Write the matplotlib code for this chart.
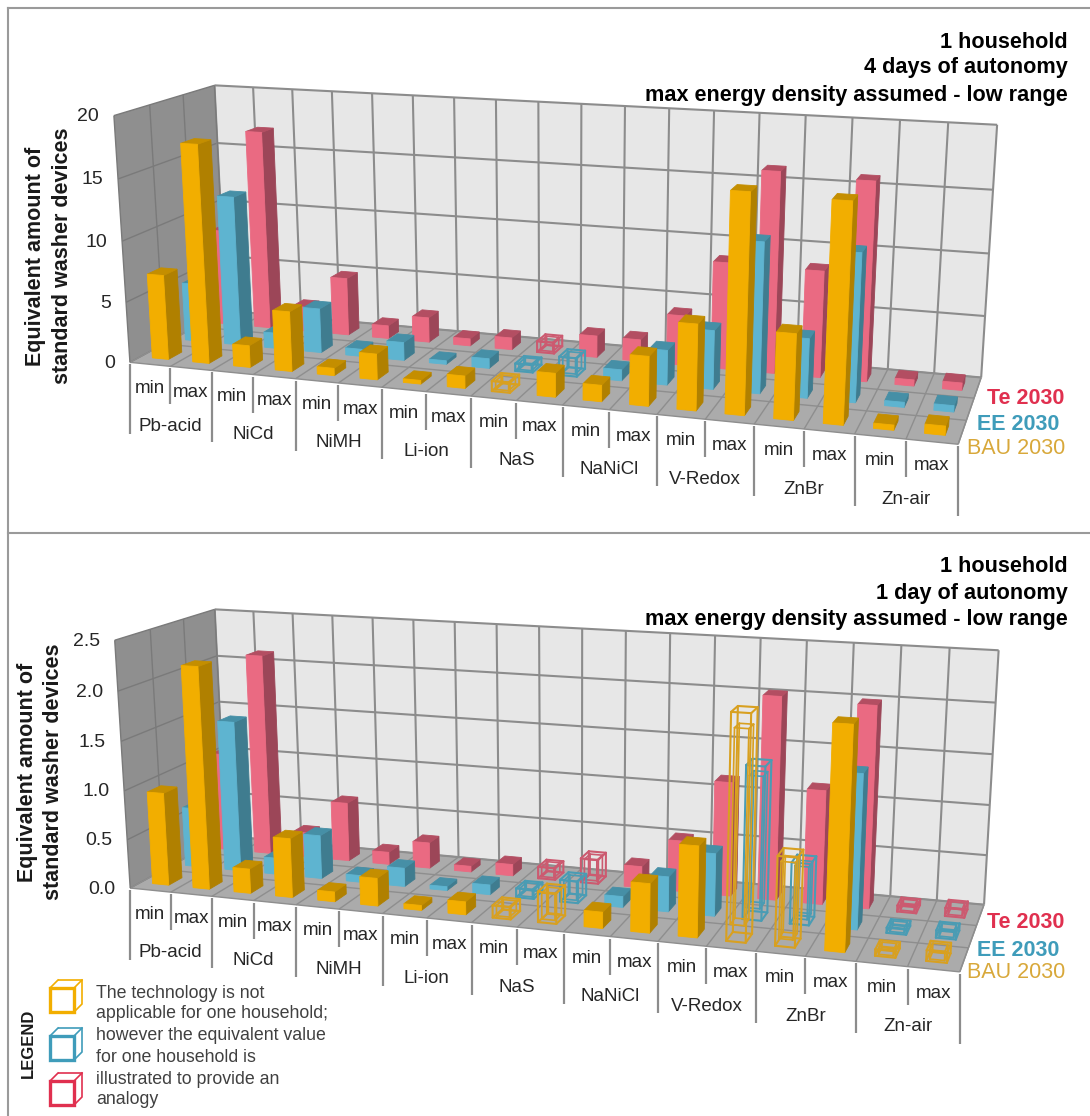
import matplotlib
matplotlib.use("Agg")
import matplotlib.pyplot as plt
import numpy as np
from matplotlib.patches import Polygon

plt.rcParams["font.family"] = ["Liberation Sans", "DejaVu Sans"]

technologies = ["Pb-acid", "NiCd", "NiMH", "Li-ion", "NaS", "NaNiCl", "V-Redox", "ZnBr", "Zn-air"]
levels = ["min", "max"]
series_names = ["BAU 2030", "EE 2030", "Te 2030"]

# values, min/max pairs per technology
bau_4d = [7.0, 17.8, 1.8, 4.9, 0.6, 2.1, 0.3, 1.0, 0.8, 1.9, 1.3, 3.9, 6.7, 16.8, 6.6, 16.6, 0.4, 0.7]
ee_4d = [4.9, 12.5, 1.3, 3.7, 0.6, 1.5, 0.3, 0.8, 0.6, 1.5, 0.9, 2.8, 4.7, 11.9, 4.7, 11.6, 0.4, 0.5]
te_4d = [8.2, 16.9, 2.1, 4.9, 1.1, 2.1, 0.6, 1.0, 0.9, 1.8, 1.8, 4.1, 8.7, 16.2, 8.6, 15.9, 0.5, 0.6]

bau_1d = [0.95, 2.25, 0.25, 0.6, 0.1, 0.28, 0.05, 0.13, 0.12, 0.3, 0.16, 0.48, 0.88, 2.14, 0.85, 2.1, 0.06, 0.1]
ee_1d = [0.62, 1.56, 0.17, 0.45, 0.07, 0.19, 0.04, 0.1, 0.09, 0.22, 0.11, 0.35, 0.62, 1.5, 0.6, 1.5, 0.05, 0.07]
te_1d = [1.04, 2.12, 0.26, 0.62, 0.13, 0.27, 0.06, 0.12, 0.12, 0.25, 0.22, 0.52, 1.15, 2.03, 1.14, 2.0, 0.06, 0.08]

# indices of the bars that are drawn hollow
hollow_4d = {"BAU 2030": [8], "EE 2030": [8, 9], "Te 2030": [8]}
hollow_1d = {
    "BAU 2030": [8, 9, 13, 14, 16, 17],
    "EE 2030": [8, 9, 13, 14, 16, 17],
    "Te 2030": [8, 9, 16, 17],
}

ticks_4d = ["0", "5", "10", "15", "20"]
ticks_1d = ["0.0", "0.5", "1.0", "1.5", "2.0", "2.5"]

titles_4d = ["1 household", "4 days of autonomy", "max energy density assumed - low range"]
titles_1d = ["1 household", "1 day of autonomy", "max energy density assumed - low range"]

legend_lines = [
    "The technology is not",
    "applicable for one household;",
    "however the equivalent value",
    "for one household is",
    "illustrated to provide an",
    "analogy",
]

front = {"BAU 2030": "#f2ae00", "EE 2030": "#5eb4d0", "Te 2030": "#ea6a82"}
side = {"BAU 2030": "#b08000", "EE 2030": "#3f7c8f", "Te 2030": "#9c4658"}
top = {"BAU 2030": "#c48e00", "EE 2030": "#468fa6", "Te 2030": "#b34e62"}
wire = {"BAU 2030": "#d8a020", "EE 2030": "#4a9cb4", "Te 2030": "#cc5a70"}
label_color = {"BAU 2030": "#d8a83a", "EE 2030": "#3f9cba", "Te 2030": "#e0304f"}

N_CAT = len(technologies) * len(levels)
BAR = 0.40


def fit_camera(world, pixels):
    rows, rhs = [], []
    for (x, y, z), (u, v) in zip(world, pixels):
        rows.append([x, y, z, 1, 0, 0, 0, 0, -u * x, -u * y, -u * z])
        rows.append([0, 0, 0, 0, x, y, z, 1, -v * x, -v * y, -v * z])
        rhs += [u, v]
    sol = np.linalg.lstsq(np.array(rows, float), np.array(rhs, float), rcond=None)[0]
    return np.append(sol, 1.0).reshape(3, 4)


def project(cam, x, y, z):
    p = cam @ np.array([x, y, z, 1.0])
    return p[0] / p[2], p[1] / p[2]


def draw_box(ax, cam, xc, yc, h, fc, sc, tc, zo):
    x0, x1 = xc - BAR / 2, xc + BAR / 2
    y0, y1 = yc - BAR / 2, yc + BAR / 2
    faces = [
        ([(x1, y0, 0), (x1, y1, 0), (x1, y1, h), (x1, y0, h)], sc),
        ([(x0, y0, h), (x1, y0, h), (x1, y1, h), (x0, y1, h)], tc),
        ([(x0, y0, 0), (x1, y0, 0), (x1, y0, h), (x0, y0, h)], fc),
    ]
    for pts, col in faces:
        ax.add_patch(Polygon([project(cam, *p) for p in pts], closed=True, fc=col, ec=col, lw=0.6, zorder=zo))


def draw_wire(ax, cam, xc, yc, h, col, zo):
    for shrink, lw in [(1.0, 1.5), (0.72, 1.2)]:
        half = BAR / 2 * shrink
        top_h = h * (1 - (1 - shrink) * 0.25)
        low_h = h * (1 - shrink) * 0.25
        corners = [(xc - half, yc - half), (xc + half, yc - half), (xc + half, yc + half), (xc - half, yc + half)]
        for i in range(4):
            a, b = corners[i], corners[(i + 1) % 4]
            for level in (low_h, top_h):
                pa, pb = project(cam, a[0], a[1], level), project(cam, b[0], b[1], level)
                ax.plot([pa[0], pb[0]], [pa[1], pb[1]], color=col, lw=lw, zorder=zo, solid_capstyle="round")
            pa, pb = project(cam, a[0], a[1], low_h), project(cam, a[0], a[1], top_h)
            ax.plot([pa[0], pb[0]], [pa[1], pb[1]], color=col, lw=lw, zorder=zo, solid_capstyle="round")


def draw_chart(ax, pixels, series, hollow, ticks, zmax, titles, title_y, label_xy, label_y, series_y):
    world = [(0, 0, 0), (0, 0, 1), (0, 3, 1), (0, 3, 0), (18, 3, 1), (18, 3, 0), (18, 0, 0), (9, 0, 0)]
    cam = fit_camera(world, pixels)

    # walls and floor
    wall = [(0, 3, 0), (N_CAT, 3, 0), (N_CAT, 3, 1), (0, 3, 1)]
    left = [(0, 0, 0), (0, 3, 0), (0, 3, 1), (0, 0, 1)]
    floor = [(0, 0, 0), (N_CAT, 0, 0), (N_CAT, 3, 0), (0, 3, 0)]
    ax.add_patch(Polygon([project(cam, *p) for p in wall], fc="#e7e7e7", ec="none", zorder=1))
    ax.add_patch(Polygon([project(cam, *p) for p in left], fc="#8f8f8f", ec="none", zorder=1))
    ax.add_patch(Polygon([project(cam, *p) for p in floor], fc="#ababab", ec="none", zorder=1))

    def line(a, b, col="#8c8c8c", lw=1.5, zo=2):
        pa, pb = project(cam, *a), project(cam, *b)
        ax.plot([pa[0], pb[0]], [pa[1], pb[1]], color=col, lw=lw, zorder=zo, solid_capstyle="butt")

    n = len(ticks) - 1
    for i in range(n + 1):
        z = i / n
        line((0, 3, z), (N_CAT, 3, z))
        line((0, 0, z), (0, 3, z), col="#7a7a7a", lw=1.0)
    for i in range(N_CAT + 1):
        line((i, 3, 0), (i, 3, 1))
        line((i, 0, 0), (i, 3, 0), col="#8e8e8e", lw=1.0)
    for d in range(4):
        line((0, d, 0), (N_CAT, d, 0), col="#8e8e8e", lw=1.0)
        line((0, d, 0), (0, d, 1), col="#7a7a7a", lw=1.0)
    line((N_CAT, 0, 0), (N_CAT, 3, 0), col="#8e8e8e", lw=1.0)

    # bars, back row first
    zo = 3
    for row, name in reversed(list(enumerate(series_names))):
        for i, val in enumerate(series[name]):
            h = val / zmax
            if i in hollow[name]:
                draw_wire(ax, cam, i + 0.5, row + 0.5, h, wire[name], zo)
            else:
                draw_box(ax, cam, i + 0.5, row + 0.5, h, front[name], side[name], top[name], zo)
            zo += 1

    # value axis labels
    for i, lab in enumerate(ticks):
        u, v = project(cam, 0, 0, i / n)
        ax.text(u - 15, v + 1, lab, ha="right", va="center", fontsize=14, color="#262626")

    # multi level category axis
    for i in range(N_CAT + 1):
        u, v = project(cam, i, 0, 0)
        length = 72 if i % 2 == 0 else 38
        ax.plot([u, u], [v + 2, v + length], color="#8c8c8c", lw=1.6, zorder=2, solid_capstyle="butt")
    for i in range(N_CAT):
        u, v = project(cam, i + 0.5, 0, 0)
        ax.text(u, v + 24, levels[i % 2], ha="center", va="center", fontsize=13.5, color="#262626")
    for g, tech in enumerate(technologies):
        u, v = project(cam, g * 2 + 1, 0, 0)
        ax.text(u, v + 60, tech, ha="center", va="center", fontsize=13.5, color="#262626")

    for t, y in zip(titles, title_y):
        ax.text(1068, y, t, ha="right", va="center", fontsize=15.6, fontweight="bold", color="black")

    ax.text(label_xy[0], label_y, "Equivalent amount of", rotation=90, ha="center", va="center",
            fontsize=15.5, fontweight="bold", color="#1a1a1a")
    ax.text(label_xy[1], label_y, "standard washer devices", rotation=90, ha="center", va="center",
            fontsize=15.5, fontweight="bold", color="#1a1a1a")

    for name, x, y in zip(series_names, (1016, 1018, 1026), series_y):
        ax.text(x, y, name, ha="center", va="center", fontsize=15.5, color=label_color[name],
                fontweight="normal" if name == "BAU 2030" else "bold")


def draw_legend(ax):
    ax.text(28, 1043, "LEGEND", rotation=90, ha="center", va="center", fontsize=12, fontweight="bold", color="#1a1a1a")
    for name, y0 in zip(["BAU 2030", "EE 2030", "Te 2030"], (988, 1036, 1081)):
        col = label_color[name] if name != "BAU 2030" else front[name]
        s, d = 24, 8
        x0 = 50
        ax.add_patch(Polygon([(x0 + d, y0 - d), (x0 + d + s, y0 - d), (x0 + d + s, y0 + s - d), (x0 + s, y0 + s)],
                             closed=False, fc="none", ec=col, lw=1.2, zorder=5))
        ax.plot([x0, x0 + d], [y0, y0 - d], color=col, lw=1.2, zorder=5)
        ax.plot([x0 + s, x0 + s + d], [y0, y0 - d], color=col, lw=1.2, zorder=5)
        ax.add_patch(Polygon([(x0, y0), (x0 + s, y0), (x0 + s, y0 + s), (x0, y0 + s)],
                             fc="white", ec=col, lw=2.4, zorder=6))
    for line_text, y in zip(legend_lines, (993, 1014, 1036, 1057, 1079, 1100)):
        ax.text(96, y, line_text, ha="left", va="center", fontsize=12.8, color="#404040")


fig = plt.figure(figsize=(10.9, 11.16), dpi=100)
ax = fig.add_axes([0, 0, 1, 1])
ax.set_xlim(0, 1090)
ax.set_ylim(1116, 0)
ax.axis("off")

# frame of the two panels
ax.plot([8, 8], [1116, 8], color="#9a9a9a", lw=1.5)
ax.plot([8, 1090], [8, 8], color="#9a9a9a", lw=1.5)
ax.plot([8, 1090], [533, 533], color="#9a9a9a", lw=1.5)

pix_4d = [(130, 360), (114, 117), (214.5, 83), (226, 314), (997, 126), (981, 375), (959, 446), (515.5, 400)]
pix_1d = [(130, 885), (115, 641), (214.5, 608), (226, 839), (998.6, 651), (984, 902), (960, 973.6), (517, 928)]

draw_chart(ax, pix_4d, {"BAU 2030": bau_4d, "EE 2030": ee_4d, "Te 2030": te_4d}, hollow_4d, ticks_4d, 20.0,
           titles_4d, (42, 68, 95), (36, 62.5), 256, (448, 425, 398))
draw_chart(ax, pix_1d, {"BAU 2030": bau_1d, "EE 2030": ee_1d, "Te 2030": te_1d}, hollow_1d, ticks_1d, 2.5,
           titles_1d, (567, 593, 620), (28, 54), 772, (973, 950, 922))
draw_legend(ax)

fig.savefig("out.png", dpi=100)
plt.close(fig)
